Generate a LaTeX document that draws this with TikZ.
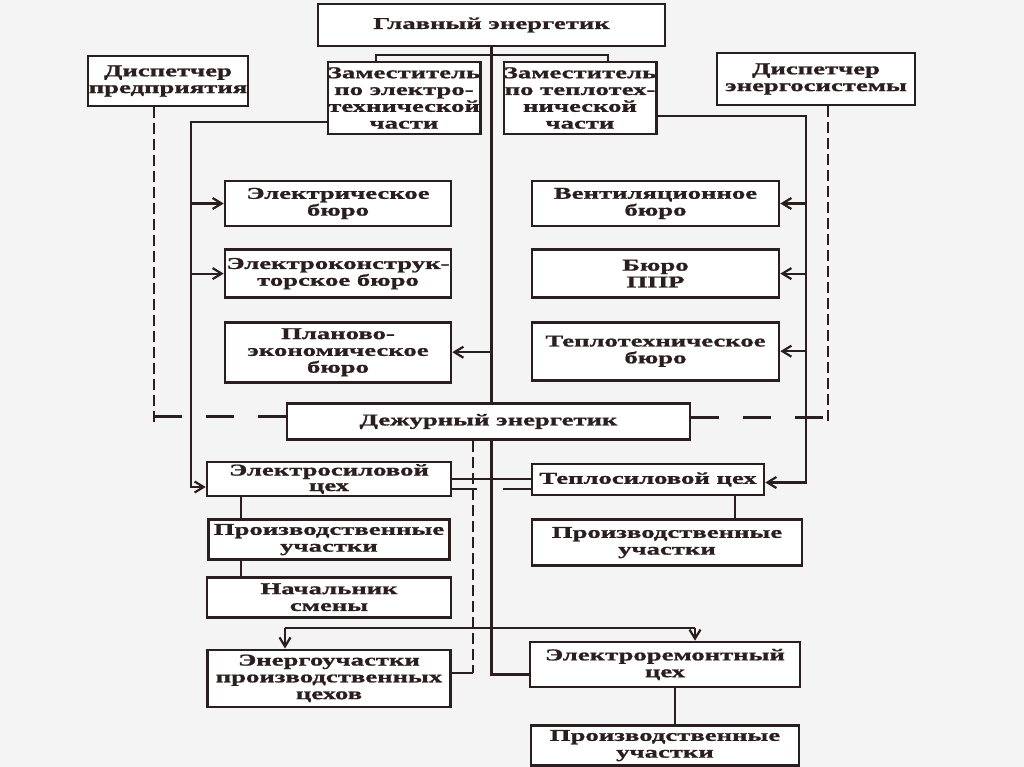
\documentclass[tikz,border=0pt]{standalone}
\usepackage{fontspec}
\setmainfont{Liberation Serif}[FakeStretch=1.62,FakeBold=1.2]
\usetikzlibrary{arrows.meta,positioning}
\definecolor{inkcol}{HTML}{2A1E1E}
\definecolor{papercol}{HTML}{F4F4F4}
\tikzset{
	>={Straight Barb[length=9pt,width=11pt]},
	orgunit/.style={
		rectangle,
		draw=inkcol,
		line width=2.6pt,
		fill=white,
		inner sep=0pt,
		text=inkcol,
		align=center,
		font=\bfseries\fontsize{16.5}{16.8}\selectfont},
	linkedge/.style={
		draw=inkcol,
		line width=2.2pt},
	flowedge/.style={
		linkedge,
		->},
	dispvedge/.style={
		linkedge,
		dash pattern=on 11pt off 5pt},
	disphedge/.style={
		linkedge,
		dash pattern=on 28pt off 24pt}
}

\begin{document}
\begin{tikzpicture}[
			x=1pt, y=1pt,
			node distance = 22pt,
			]
    \fill[papercol] (0,0) rectangle (1024,-767);
    \useasboundingbox (0,0) rectangle (1024,-767);

    \node[orgunit, minimum width=347pt, minimum height=42pt] (GE) at (491.5,-25) {Главный энергетик};
    \node[orgunit, minimum width=160pt, minimum height=50pt] (DP) at (168,-81) {Диспетчер\\предприятия};
    \node[orgunit, minimum width=150pt, minimum height=72pt] (ZE) at (404,-98) {Заместитель\\по электро-\\технической\\части};
    \node[orgunit, minimum width=152pt, minimum height=72pt] (ZT) at (580,-98) {Заместитель\\по теплотех-\\нической\\части};
    \node[orgunit, minimum width=198pt, minimum height=52pt] (DS) at (816,-79) {Диспетчер\\энергосистемы};

    \node[orgunit, minimum width=226pt, minimum height=45pt] (EB) at (338,-203.5) {Электрическое\\бюро};
    \node[orgunit, minimum width=226pt, minimum height=48pt, below=21pt of EB] (EKB) {Электроконструк-\\торское бюро};
    \node[orgunit, minimum width=226pt, minimum height=60pt, below=of EKB] (PEB) {Планово-\\экономическое\\бюро};

    \node[orgunit, minimum width=247pt, minimum height=45pt] (VB) at (655.5,-203.5) {Вентиляционное\\бюро};
    \node[orgunit, minimum width=247pt, minimum height=48pt, below=21pt of VB] (PPR) {Бюро\\ППР};
    \node[orgunit, minimum width=247pt, minimum height=58pt, below=of PPR] (TTB) {Теплотехническое\\бюро};

    \node[orgunit, minimum width=403pt, minimum height=36pt] (DE) at (488.5,-421.5) {Дежурный энергетик};

    \node[orgunit, minimum width=244pt, minimum height=34pt,
          font=\bfseries\fontsize{16.5}{15.5}\selectfont] (ES) at (329,-479) {Электросиловой\\цех};
    \node[orgunit, minimum width=241pt, minimum height=40pt, below=21pt of ES] (PUL) {Производственные\\участки};
    \node[orgunit, minimum width=244pt, minimum height=40pt, below=15pt of PUL] (NS) {Начальник\\смены};
    \node[orgunit, minimum width=243pt, minimum height=57pt, below=30pt of NS] (EU) {Энергоучастки\\производственных\\цехов};

    \node[orgunit, minimum width=232pt, minimum height=31pt] (TS) at (648,-479.5) {Теплосиловой цех};
    \node[orgunit, minimum width=270pt, minimum height=46pt,
          below=of TS.south west, anchor=north west] (PUR) {Производственные\\участки};
    \node[orgunit, minimum width=270pt, minimum height=45pt] (ER) at (665,-664.5) {Электроремонтный\\цех};
    \node[orgunit, minimum width=268pt, minimum height=40pt, below=36pt of ER] (PUB) {Производственные\\участки};

    \coordinate (brL) at (376,-55);
    \coordinate (brR) at (608,-55);
    \coordinate (lbus) at (191,-122);
    \coordinate (rbus) at (806,-116);
    \coordinate (eudrop) at (285,-628);
    \coordinate (erdrop) at (695,-628);
    \coordinate (dd) at (473,-673);
    \coordinate (gapL) at (477,-489);
    \coordinate (gapR) at (503,-489);
    \coordinate (lchain) at (241,-500);
    \coordinate (rchain) at (735,-500);
    \coordinate (bchain) at (675,-700);

    \draw[linkedge] (GE.south) -- (GE.south |- DE.north);
    \draw[linkedge] (brL |- ZE.north) -- (brL) -- (brR) -- (brR |- ZT.north);

    \draw[flowedge] (lbus -| ZE.west) -- (lbus) |- ([yshift=-8pt]ES.west);
    \draw[flowedge] (lbus |- EB.west) -- (EB.west);
    \draw[flowedge] (lbus |- EKB.west) -- (EKB.west);

    \draw[flowedge] (rbus -| ZT.east) -- (rbus) |- ([yshift=-3pt]TS.east);
    \draw[flowedge] (rbus |- VB.east) -- (VB.east);
    \draw[flowedge] (rbus |- PPR.east) -- (PPR.east);
    \draw[flowedge] (rbus |- TTB.east) -- (TTB.east);

    \draw[flowedge] (PEB.east -| GE.south) -- (PEB.east);

    \draw[dispvedge] ([xshift=-14pt]DP.south) -- ([xshift=-14pt]DP.south |- DE.west) ++(0,5) coordinate (dpc);
    \draw[disphedge] ([yshift=5pt]DE.west) -- ([yshift=5pt]DE.west -| dpc);
    \draw[dispvedge] ([xshift=12pt]DS.south) -- ([xshift=12pt]DS.south |- DE.east) ++(0,4) coordinate (dsc);
    \draw[disphedge] ([yshift=4pt]DE.east) -- ([yshift=4pt]DE.east -| dsc);

    \draw[linkedge] (DE.south -| GE.south) |- ([yshift=-10pt]ER.west);
    \draw[linkedge] (eudrop) -- (erdrop);
    \draw[flowedge] (eudrop) -- (eudrop |- EU.north);
    \draw[flowedge] (erdrop) -- (erdrop |- ER.north);

    \draw[dispvedge] (DE.south -| dd) -- (dd);
    \draw[linkedge] (dd) -- (dd -| EU.east);

    \draw[linkedge] (ES.east) -- (ES.east -| TS.west);
    \draw[linkedge] (gapL -| ES.east) -- (gapL);
    \draw[linkedge] (gapR) -- (gapR -| TS.west);

    \draw[linkedge] (ES.south -| lchain) -- (PUL.north -| lchain);
    \draw[linkedge] (PUL.south -| lchain) -- (NS.north -| lchain);
    \draw[linkedge] (TS.south -| rchain) -- (PUR.north -| rchain);
    \draw[linkedge] (ER.south -| bchain) -- (PUB.north -| bchain);
\end{tikzpicture}
\end{document}
